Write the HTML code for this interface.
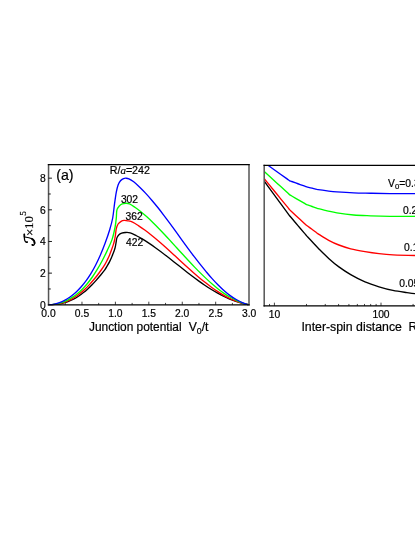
<!DOCTYPE html>
<html><head><meta charset="utf-8"><title>fig</title>
<style>html,body{margin:0;padding:0;background:#fff;}body{width:415px;height:537px;overflow:hidden;position:relative;font-family:"Liberation Sans",sans-serif;}</style>
</head><body>
<svg width="415" height="537" viewBox="0 0 415 537" style="position:absolute;left:0;top:0;display:block;will-change:transform">
<rect width="415" height="537" fill="#fff"/>
<defs><clipPath id="cl"><rect x="48.5" y="164.5" width="200.4" height="141.3"/></clipPath><clipPath id="cr"><rect x="264.2" y="165.3" width="200" height="140.6"/></clipPath></defs>
<g fill="none" stroke-width="1.35" stroke-linejoin="round" clip-path="url(#cl)">
<path d="M48.50,304.70 C49.22,304.68 51.39,304.67 52.83,304.59 C54.27,304.51 55.72,304.39 57.16,304.20 C58.61,304.02 60.05,303.78 61.49,303.47 C62.94,303.15 64.38,302.78 65.82,302.32 C67.27,301.86 68.71,301.32 70.15,300.70 C71.60,300.08 73.04,299.39 74.48,298.60 C75.93,297.81 77.37,296.93 78.82,295.97 C80.26,295.01 81.70,293.96 83.15,292.82 C84.59,291.68 86.03,290.46 87.48,289.15 C88.92,287.84 90.36,286.45 91.81,284.98 C93.25,283.51 94.69,281.95 96.14,280.34 C97.58,278.72 99.03,277.02 100.47,275.27 C101.91,273.52 103.68,271.41 104.80,269.85 C105.92,268.28 106.40,267.27 107.20,265.90 C108.00,264.53 108.80,263.20 109.60,261.60 C110.40,260.00 111.35,257.80 112.00,256.30 C112.65,254.80 113.08,253.68 113.50,252.60 C113.92,251.52 114.18,250.85 114.50,249.80 C114.82,248.75 115.13,247.53 115.40,246.30 C115.67,245.07 115.85,243.80 116.10,242.40 C116.35,241.00 116.47,239.15 116.90,237.90 C117.33,236.65 117.90,235.70 118.70,234.90 C119.50,234.10 120.60,233.50 121.70,233.10 C122.80,232.70 123.88,232.55 125.30,232.50 C126.72,232.45 128.35,232.28 130.20,232.82 C132.05,233.36 134.34,234.66 136.42,235.73 C138.49,236.79 140.56,237.96 142.63,239.20 C144.70,240.44 146.78,241.79 148.85,243.16 C150.92,244.53 152.99,245.96 155.06,247.44 C157.14,248.91 159.21,250.44 161.28,252.00 C163.35,253.55 165.42,255.16 167.49,256.77 C169.57,258.38 171.64,260.02 173.71,261.66 C175.78,263.29 177.85,264.95 179.93,266.58 C182.00,268.22 184.07,269.87 186.14,271.48 C188.21,273.09 190.29,274.70 192.36,276.27 C194.43,277.83 196.50,279.38 198.57,280.87 C200.65,282.37 202.72,283.82 204.79,285.22 C206.86,286.63 208.93,288.00 211.01,289.29 C213.08,290.58 215.15,291.79 217.22,292.96 C219.29,294.12 221.36,295.23 223.44,296.25 C225.51,297.28 227.58,298.24 229.65,299.10 C231.72,299.96 233.80,300.70 235.87,301.40 C237.94,302.11 240.01,302.77 242.08,303.32 C244.16,303.87 247.26,304.47 248.30,304.70" stroke="#000"/>
<path d="M48.50,304.70 C49.18,304.68 51.21,304.66 52.57,304.56 C53.93,304.47 55.28,304.33 56.64,304.12 C57.99,303.91 59.35,303.64 60.71,303.30 C62.06,302.97 63.42,302.57 64.78,302.09 C66.13,301.61 67.49,301.06 68.85,300.43 C70.20,299.80 71.56,299.09 72.92,298.30 C74.27,297.51 75.63,296.64 76.98,295.68 C78.34,294.73 79.70,293.69 81.05,292.57 C82.41,291.45 83.77,290.24 85.12,288.95 C86.48,287.67 87.84,286.29 89.19,284.84 C90.55,283.40 91.91,281.86 93.26,280.26 C94.62,278.65 95.97,276.97 97.33,275.22 C98.69,273.46 100.16,271.52 101.40,269.75 C102.64,267.98 103.83,266.21 104.80,264.60 C105.77,262.99 106.40,261.70 107.20,260.10 C108.00,258.50 108.92,256.62 109.60,255.00 C110.28,253.38 110.70,252.05 111.30,250.40 C111.90,248.75 112.65,246.83 113.20,245.10 C113.75,243.37 114.22,241.75 114.60,240.00 C114.98,238.25 115.22,236.50 115.50,234.60 C115.78,232.70 115.87,230.37 116.30,228.60 C116.73,226.83 117.30,225.22 118.10,224.00 C118.90,222.78 120.10,221.90 121.10,221.30 C122.10,220.70 122.98,220.48 124.10,220.40 C125.22,220.32 126.38,220.51 127.80,220.80 C129.22,221.09 130.79,221.29 132.60,222.12 C134.41,222.96 136.66,224.49 138.69,225.81 C140.72,227.13 142.75,228.56 144.78,230.05 C146.81,231.54 148.84,233.13 150.87,234.74 C152.90,236.36 154.93,238.02 156.96,239.73 C158.99,241.45 161.02,243.22 163.05,245.01 C165.08,246.81 167.11,248.65 169.14,250.49 C171.17,252.34 173.20,254.22 175.23,256.09 C177.26,257.95 179.29,259.84 181.32,261.71 C183.35,263.58 185.38,265.45 187.41,267.28 C189.44,269.12 191.46,270.94 193.49,272.71 C195.52,274.48 197.55,276.22 199.58,277.91 C201.61,279.59 203.64,281.23 205.67,282.82 C207.70,284.42 209.73,285.98 211.76,287.45 C213.79,288.92 215.82,290.32 217.85,291.64 C219.88,292.96 221.91,294.22 223.94,295.37 C225.97,296.52 228.00,297.59 230.03,298.55 C232.06,299.50 234.09,300.34 236.12,301.12 C238.15,301.89 240.18,302.59 242.21,303.18 C244.24,303.78 247.29,304.45 248.30,304.70" stroke="#f00"/>
<path d="M48.50,304.70 C49.32,304.65 51.76,304.61 53.39,304.42 C55.02,304.22 56.65,303.94 58.28,303.54 C59.92,303.14 61.55,302.65 63.18,302.03 C64.81,301.42 66.44,300.70 68.07,299.85 C69.70,299.00 71.33,298.03 72.96,296.93 C74.59,295.83 76.22,294.60 77.85,293.23 C79.48,291.85 81.12,290.34 82.75,288.67 C84.38,287.00 86.01,285.19 87.64,283.20 C89.27,281.21 90.90,279.07 92.53,276.74 C94.16,274.41 95.79,271.91 97.42,269.21 C99.05,266.51 100.68,263.63 102.32,260.53 C103.95,257.43 105.58,254.14 107.21,250.61 C108.84,247.08 110.78,243.29 112.10,239.36 C113.42,235.42 114.40,230.56 115.10,227.00 C115.80,223.44 116.00,220.80 116.30,218.00 C116.60,215.20 116.40,212.20 116.90,210.20 C117.40,208.20 118.40,207.05 119.30,206.00 C120.20,204.95 121.20,204.35 122.30,203.90 C123.40,203.45 124.70,203.30 125.90,203.30 C127.10,203.30 128.00,203.24 129.50,203.90 C131.00,204.56 133.01,205.97 134.90,207.28 C136.79,208.59 138.88,210.14 140.87,211.74 C142.86,213.33 144.85,215.07 146.84,216.86 C148.83,218.65 150.82,220.53 152.81,222.46 C154.79,224.38 156.78,226.37 158.77,228.41 C160.76,230.45 162.75,232.56 164.74,234.69 C166.73,236.81 168.72,238.99 170.71,241.17 C172.70,243.34 174.69,245.54 176.68,247.73 C178.67,249.92 180.66,252.13 182.65,254.30 C184.64,256.48 186.63,258.65 188.62,260.78 C190.61,262.92 192.59,265.04 194.58,267.10 C196.57,269.16 198.56,271.18 200.55,273.14 C202.54,275.10 204.53,277.01 206.52,278.87 C208.51,280.73 210.50,282.58 212.49,284.31 C214.48,286.03 216.47,287.68 218.46,289.23 C220.45,290.77 222.44,292.24 224.43,293.58 C226.42,294.92 228.41,296.15 230.39,297.27 C232.38,298.39 234.37,299.38 236.36,300.31 C238.35,301.24 240.34,302.10 242.33,302.83 C244.32,303.56 247.31,304.39 248.30,304.70" stroke="#0f0"/>
<path d="M48.50,304.70 C49.28,304.63 51.64,304.56 53.21,304.30 C54.78,304.04 56.35,303.64 57.92,303.14 C59.48,302.64 61.05,302.01 62.62,301.28 C64.19,300.54 65.76,299.69 67.33,298.72 C68.90,297.75 70.47,296.66 72.04,295.45 C73.61,294.23 75.18,292.90 76.75,291.41 C78.32,289.92 79.88,288.30 81.45,286.51 C83.02,284.71 84.59,282.78 86.16,280.62 C87.73,278.47 89.30,276.17 90.87,273.60 C92.44,271.04 94.01,268.29 95.58,265.25 C97.15,262.20 98.72,258.94 100.28,255.33 C101.85,251.72 103.42,247.85 104.99,243.59 C106.56,239.32 108.42,233.99 109.70,229.73 C110.98,225.46 111.90,222.27 112.70,218.00 C113.50,213.73 113.90,208.42 114.50,204.10 C115.10,199.78 115.70,195.30 116.30,192.10 C116.90,188.90 117.40,186.80 118.10,184.90 C118.80,183.00 119.60,181.75 120.50,180.70 C121.40,179.65 122.60,179.02 123.50,178.60 C124.40,178.18 125.00,178.17 125.90,178.20 C126.80,178.23 127.60,178.20 128.90,178.80 C130.20,179.40 131.89,180.42 133.70,181.82 C135.51,183.22 137.72,185.28 139.73,187.20 C141.74,189.13 143.75,191.23 145.76,193.40 C147.77,195.57 149.78,197.88 151.79,200.23 C153.81,202.59 155.82,205.03 157.83,207.54 C159.84,210.04 161.85,212.65 163.86,215.29 C165.87,217.93 167.88,220.64 169.89,223.37 C171.90,226.10 173.91,228.88 175.92,231.66 C177.93,234.44 179.94,237.26 181.95,240.04 C183.96,242.83 185.97,245.65 187.98,248.39 C189.99,251.13 192.01,253.83 194.02,256.46 C196.03,259.10 198.04,261.68 200.05,264.20 C202.06,266.72 204.07,269.16 206.08,271.57 C208.09,273.98 210.10,276.40 212.11,278.64 C214.12,280.89 216.13,283.03 218.14,285.05 C220.15,287.07 222.16,289.01 224.17,290.77 C226.18,292.54 228.19,294.17 230.21,295.63 C232.22,297.09 234.23,298.36 236.24,299.53 C238.25,300.70 240.26,301.78 242.27,302.64 C244.28,303.50 247.29,304.36 248.30,304.70" stroke="#00f"/>
</g>
<g fill="none" stroke-width="1.35" stroke-linejoin="round" clip-path="url(#cr)">
<path d="M264.20,181.10 C264.71,181.80 265.14,182.38 267.27,185.29 C269.41,188.20 273.76,194.13 277.00,198.55 C280.24,202.97 284.59,208.90 286.73,211.81 C288.86,214.72 288.96,214.92 289.80,216.00 C290.64,217.08 290.40,216.70 291.76,218.30 C293.11,219.90 295.89,223.17 297.95,225.60 C300.01,228.03 302.79,231.30 304.14,232.90 C305.50,234.50 305.54,234.56 306.10,235.20 C306.66,235.84 306.53,235.66 307.50,236.71 C308.48,237.76 310.47,239.90 311.95,241.50 C313.43,243.10 315.42,245.24 316.40,246.29 C317.37,247.34 315.75,245.78 317.80,247.80 C319.85,249.82 325.18,255.22 328.70,258.40 C332.22,261.58 335.23,264.20 338.90,266.90 C342.57,269.60 346.35,272.10 350.70,274.60 C355.05,277.10 360.28,279.87 365.00,281.90 C369.72,283.93 374.35,285.38 379.00,286.80 C383.65,288.22 388.25,289.43 392.90,290.40 C397.55,291.37 403.22,292.07 406.90,292.60 C410.58,293.13 411.15,293.27 415.00,293.60 C418.85,293.93 427.50,294.43 430.00,294.60" stroke="#000"/>
<path d="M264.20,178.70 C264.71,179.32 265.14,179.84 267.27,182.44 C269.41,185.04 273.76,190.35 277.00,194.30 C280.24,198.25 284.59,203.56 286.73,206.16 C288.86,208.76 288.96,208.97 289.80,209.90 C290.64,210.83 290.40,210.45 291.76,211.71 C293.11,212.97 295.89,215.54 297.95,217.45 C300.01,219.36 302.79,221.93 304.14,223.19 C305.50,224.45 305.54,224.53 306.10,225.00 C306.66,225.47 306.53,225.32 307.50,226.03 C308.48,226.75 310.47,228.21 311.95,229.30 C313.43,230.39 315.42,231.85 316.40,232.57 C317.37,233.28 315.75,232.31 317.80,233.60 C319.85,234.89 325.18,238.40 328.70,240.30 C332.22,242.20 335.23,243.58 338.90,245.00 C342.57,246.42 346.35,247.70 350.70,248.80 C355.05,249.90 360.28,250.80 365.00,251.60 C369.72,252.40 374.33,253.07 379.00,253.60 C383.67,254.13 387.00,254.48 393.00,254.80 C399.00,255.12 408.83,255.37 415.00,255.50 C421.17,255.63 427.50,255.58 430.00,255.60" stroke="#f00"/>
<path d="M264.20,171.40 C264.71,171.87 265.14,172.26 267.27,174.22 C269.41,176.18 273.76,180.17 277.00,183.15 C280.24,186.13 284.59,190.12 286.73,192.08 C288.86,194.04 288.96,194.24 289.80,194.90 C290.64,195.56 290.40,195.24 291.76,196.03 C293.11,196.81 295.89,198.41 297.95,199.60 C300.01,200.79 302.79,202.39 304.14,203.17 C305.50,203.96 305.53,204.02 306.10,204.30 C306.67,204.58 306.54,204.46 307.54,204.83 C308.54,205.19 310.58,205.94 312.10,206.50 C313.62,207.06 315.66,207.81 316.66,208.17 C317.66,208.54 316.34,208.26 318.10,208.70 C319.86,209.14 324.07,210.10 327.20,210.80 C330.33,211.50 332.48,212.20 336.90,212.90 C341.32,213.60 348.08,214.52 353.70,215.00 C359.32,215.48 364.55,215.58 370.60,215.80 C376.65,216.02 382.60,216.20 390.00,216.30 C397.40,216.40 408.33,216.38 415.00,216.40 C421.67,216.42 427.50,216.40 430.00,216.40" stroke="#0f0"/>
<path d="M264.20,162.60 C264.71,162.96 265.14,163.27 267.27,164.78 C269.41,166.30 273.76,169.39 277.00,171.70 C280.24,174.01 284.59,177.10 286.73,178.62 C288.86,180.13 288.96,180.32 289.80,180.80 C290.64,181.28 290.40,181.02 291.76,181.51 C293.11,182.00 295.89,183.00 297.95,183.75 C300.01,184.50 302.79,185.50 304.14,185.99 C305.50,186.48 305.53,186.52 306.10,186.70 C306.67,186.88 306.54,186.81 307.54,187.06 C308.54,187.31 310.58,187.82 312.10,188.20 C313.62,188.58 315.66,189.09 316.66,189.34 C317.66,189.59 316.34,189.44 318.10,189.70 C319.86,189.96 324.07,190.53 327.20,190.90 C330.33,191.27 332.48,191.57 336.90,191.90 C341.32,192.23 348.08,192.68 353.70,192.90 C359.32,193.12 364.55,193.14 370.60,193.25 C376.65,193.36 382.60,193.48 390.00,193.55 C397.40,193.62 408.33,193.67 415.00,193.70 C421.67,193.72 427.50,193.70 430.00,193.70" stroke="#00f"/>
</g>
<g fill="none" stroke="#555" stroke-width="1.5">
<path d="M48.55,164.00 V305.40 M249.00,164.00 V305.40 M264.20,164.80 V306.45"/>
<path d="M65.26,304.80 v-1.9 M81.97,304.80 v-3.1 M98.69,304.80 v-1.9 M115.40,304.80 v-3.1 M132.11,304.80 v-1.9 M148.82,304.80 v-3.1 M165.54,304.80 v-1.9 M182.25,304.80 v-3.1 M198.96,304.80 v-1.9 M215.68,304.80 v-3.1 M232.39,304.80 v-1.9 M269.52,305.85 v-1.9 M274.40,305.85 v-3.2 M306.49,305.85 v-1.9 M325.26,305.85 v-1.9 M338.58,305.85 v-1.9 M348.91,305.85 v-1.9 M357.35,305.85 v-1.9 M364.49,305.85 v-1.9 M370.67,305.85 v-1.9 M376.12,305.85 v-1.9 M381.00,305.85 v-3.2 M413.09,305.85 v-1.9" stroke="#444" stroke-width="1.0"/>
</g>
<g fill="none" stroke="#000" stroke-width="1.25">
<path d="M47.85,164.50 H249.70 M47.85,304.80 H249.70 M263.50,165.30 H430 M263.50,305.85 H430"/>
<path d="M48.55,288.97 h2.2 M48.55,273.14 h3.4 M48.55,257.31 h2.2 M48.55,241.48 h3.4 M48.55,225.65 h2.2 M48.55,209.82 h3.4 M48.55,193.99 h2.2 M48.55,178.16 h3.4" stroke-width="0.9"/>
</g>
<g font-family="Liberation Sans, sans-serif" fill="#000" font-size="10.3" stroke="#000" stroke-width="0.2">
<text x="48.5" y="316.6" text-anchor="middle">0.0</text>
<text x="82.0" y="316.6" text-anchor="middle">0.5</text>
<text x="115.4" y="316.6" text-anchor="middle">1.0</text>
<text x="148.8" y="316.6" text-anchor="middle">1.5</text>
<text x="182.2" y="316.6" text-anchor="middle">2.0</text>
<text x="215.7" y="316.6" text-anchor="middle">2.5</text>
<text x="249.1" y="316.6" text-anchor="middle">3.0</text>
<text x="45.8" y="308.6" text-anchor="end">0</text>
<text x="45.8" y="276.9" text-anchor="end">2</text>
<text x="45.8" y="245.3" text-anchor="end">4</text>
<text x="45.8" y="213.6" text-anchor="end">6</text>
<text x="45.8" y="182.0" text-anchor="end">8</text>
<text x="274.4" y="318.0" text-anchor="middle">10</text>
<text x="381.0" y="318.0" text-anchor="middle">100</text>

<text x="89.0" y="330.5" font-size="11.9">Junction potential</text>
<text x="188.7" y="330.5" font-size="12.2">V<tspan font-size="8.8" dy="3.0">0</tspan><tspan dy="-3.0">/t</tspan></text>
<text x="301.4" y="330.7" font-size="12.3">Inter-spin distance</text>
<text x="408.6" y="330.7" font-size="12.3">R</text>
<text x="56.2" y="180.3" font-size="14.2">(a)</text>
<text x="109.7" y="174" font-size="10.7">R/<tspan font-family="Liberation Serif, serif" font-style="italic" font-size="11">a</tspan>=242</text>
<text x="120.9" y="203.3">302</text>
<text x="125.6" y="219.5">362</text>
<text x="126.1" y="246.4">422</text>
<text x="388.1" y="186.6">V<tspan font-size="7.8" dy="2.2">0</tspan><tspan dy="-2.2">=0.3</tspan></text>
<text x="402.95" y="214.0">0.2</text>
<text x="404.1" y="250.8">0.1</text>
<text x="399.2" y="286.9">0.05</text>
<g fill="none" stroke="#000" stroke-width="1.25" stroke-linecap="round">
<path d="M24.7,237.0 C27,237.3 30,237.8 31.8,238.7 C33.8,239.8 34.8,241.8 34.6,243.5 C34.4,245.2 33.2,245.6 32.3,244.9"/>
<path d="M31.8,238.7 C33.8,239.8 34.8,241.8 34.6,243.5" stroke-width="1.7"/>
<path d="M24.3,234.4 C24.5,236 24.2,238 24.6,239.8 C25,241.6 26,242.5 27.2,242.2"/>
<path d="M24.3,234.4 C24.45,235.5 24.4,236.3 24.4,237" stroke-width="1.6"/>
<path d="M32.9,245.2 L32.3,244.8" stroke-width="1.7"/>
<path d="M26.6,242.3 L27.2,242.1" stroke-width="1.6"/>
</g>
<g transform="translate(32.8,246.3) rotate(-90)" font-family="Liberation Serif, serif">
<text x="13.9" y="1.1" font-size="13" text-anchor="middle" stroke="#000" stroke-width="0.25">×</text>
<text x="17.4" y="0" font-size="13">10</text>
<text x="30.6" y="-6.5" font-size="9.2">5</text>
</g>

</g>
</svg>
</body></html>
